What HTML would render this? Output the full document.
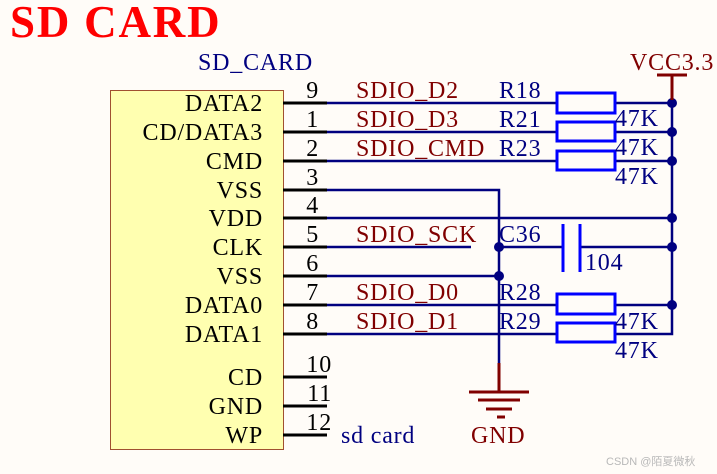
<!DOCTYPE html>
<html><head><meta charset="utf-8"><style>
html,body{margin:0;padding:0;background:#fffcf8;}
svg{display:block;}
text{font-family:"Liberation Serif",serif;font-size:24px;letter-spacing:0.8px;}
</style></head><body>
<svg width="717" height="474" viewBox="0 0 717 474" xmlns="http://www.w3.org/2000/svg">
<rect width="717" height="474" fill="#fffcf8"/>
<text x="10" y="37" fill="#ff0000" style="font-size:45px;font-weight:bold;letter-spacing:1.8px">SD CARD</text>
<text x="198" y="70" fill="#000080">SD_CARD</text>
<rect x="110.5" y="90.5" width="173" height="359" fill="#ffffb0" stroke="#a05030" stroke-width="1"/>
<g fill="#000" text-anchor="end" style="letter-spacing:1.1px">
<text x="263" y="111">DATA2</text>
<text x="263" y="140">CD/DATA3</text>
<text x="263" y="169">CMD</text>
<text x="263" y="198">VSS</text>
<text x="263" y="226">VDD</text>
<text x="263" y="255">CLK</text>
<text x="263" y="284">VSS</text>
<text x="263" y="313">DATA0</text>
<text x="263" y="342">DATA1</text>
<text x="263" y="385">CD</text>
<text x="263" y="414">GND</text>
<text x="263" y="443">WP</text>
</g>
<g fill="#000" text-anchor="end">
<text x="319" y="98">9</text><text x="319" y="127">1</text><text x="319" y="156">2</text>
<text x="319" y="185">3</text><text x="319" y="213">4</text><text x="319" y="242">5</text>
<text x="319" y="271">6</text><text x="319" y="300">7</text><text x="319" y="329">8</text>
<text x="332" y="372">10</text><text x="332" y="401">11</text><text x="332" y="430">12</text>
</g>
<g stroke="#000" stroke-width="3">
<line x1="283" y1="103" x2="327" y2="103"/><line x1="283" y1="132" x2="327" y2="132"/>
<line x1="283" y1="161" x2="327" y2="161"/><line x1="283" y1="190" x2="327" y2="190"/>
<line x1="283" y1="218" x2="327" y2="218"/><line x1="283" y1="247" x2="327" y2="247"/>
<line x1="283" y1="276" x2="327" y2="276"/><line x1="283" y1="305" x2="327" y2="305"/>
<line x1="283" y1="334" x2="327" y2="334"/><line x1="283" y1="377" x2="327" y2="377"/>
<line x1="283" y1="406" x2="327" y2="406"/><line x1="283" y1="435" x2="327" y2="435"/>
</g>
<g stroke="#000080" stroke-width="2.5" fill="none">
<line x1="327" y1="103" x2="557" y2="103"/><line x1="615" y1="103" x2="672" y2="103"/>
<line x1="327" y1="132" x2="557" y2="132"/><line x1="615" y1="132" x2="672" y2="132"/>
<line x1="327" y1="161" x2="557" y2="161"/><line x1="615" y1="161" x2="672" y2="161"/>
<polyline points="327,190 499,190 499,363"/>
<line x1="327" y1="218" x2="672" y2="218"/>
<line x1="327" y1="247" x2="471" y2="247"/>
<line x1="499" y1="247" x2="563" y2="247"/><line x1="580" y1="247" x2="672" y2="247"/>
<line x1="327" y1="276" x2="499" y2="276"/>
<line x1="327" y1="305" x2="557" y2="305"/><line x1="615" y1="305" x2="672" y2="305"/>
<line x1="327" y1="334" x2="557" y2="334"/><polyline points="615,334 672,334 672,103"/>
</g>
<g stroke="#0000ff" stroke-width="3" fill="none">
<rect x="557" y="93" width="58" height="20"/>
<rect x="557" y="122" width="58" height="19"/>
<rect x="557" y="151" width="58" height="19"/>
<rect x="557" y="294" width="58" height="20"/>
<rect x="557" y="323" width="58" height="19"/>
<line x1="563" y1="224" x2="563" y2="272"/><line x1="580" y1="224" x2="580" y2="272"/>
</g>
<g fill="#000080">
<circle cx="672" cy="103" r="5"/><circle cx="672" cy="132" r="5"/><circle cx="672" cy="161" r="5"/>
<circle cx="672" cy="218" r="5"/><circle cx="672" cy="247" r="5"/><circle cx="672" cy="305" r="5"/>
<circle cx="499" cy="247" r="5"/><circle cx="499" cy="276" r="5"/>
</g>
<g stroke="#800000" stroke-width="3">
<line x1="672" y1="75" x2="672" y2="100"/><line x1="657" y1="75" x2="687" y2="75"/>
<line x1="499" y1="363" x2="499" y2="392"/>
<line x1="469" y1="392" x2="529" y2="392"/>
<line x1="478" y1="400" x2="520" y2="400"/>
<line x1="486" y1="409" x2="512" y2="409"/>
<line x1="497" y1="417" x2="505" y2="417"/>
</g>
<text x="630" y="70" fill="#800000">VCC3.3</text>
<text x="471" y="443" fill="#800000">GND</text>
<g fill="#800000">
<text x="356" y="98">SDIO_D2</text><text x="356" y="127">SDIO_D3</text>
<text x="356" y="156">SDIO_CMD</text><text x="356" y="242">SDIO_SCK</text>
<text x="356" y="300">SDIO_D0</text><text x="356" y="329">SDIO_D1</text>
</g>
<g fill="#000080">
<text x="499" y="98">R18</text><text x="499" y="127">R21</text><text x="499" y="156">R23</text>
<text x="499" y="242">C36</text><text x="499" y="300">R28</text><text x="499" y="329">R29</text>
<text x="615" y="126">47K</text><text x="615" y="155">47K</text><text x="615" y="184">47K</text>
<text x="585" y="270">104</text>
<text x="615" y="329">47K</text><text x="615" y="358">47K</text>
<text x="341" y="443">sd card</text>
</g>
<text x="606" y="465" fill="#b8b8b8" style="font-family:'Liberation Sans','Noto Sans CJK SC',sans-serif;font-size:11px;letter-spacing:0">CSDN @陌夏微秋</text>
</svg>
</body></html>
